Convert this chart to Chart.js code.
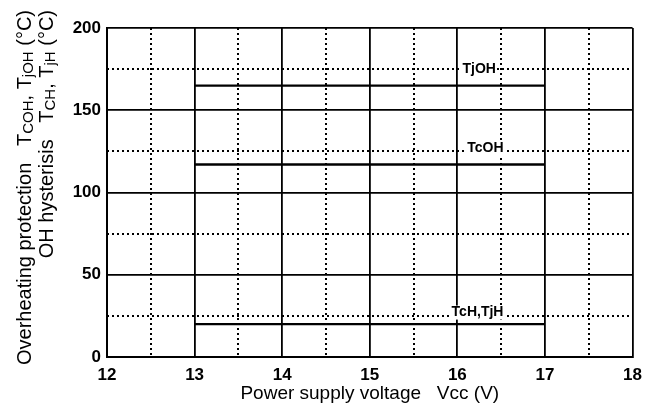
<!DOCTYPE html>
<html><head><meta charset="utf-8">
<script src="https://cdn.jsdelivr.net/npm/chart.js@4.4.1/dist/chart.umd.min.js"></script>
<style>html,body{margin:0;padding:0;background:#fff}</style>
</head><body>
<canvas id="c" width="650" height="405"></canvas>
<script>
// ---- data ----
const seriesNames = ["TjOH", "TcOH", "TcH,TjH"];
const vccRange = [13, 17];
const tempTjOH = [165, 165];
const tempTcOH = [117, 117];
const tempHyst = [20, 20];
const labelX = [16.25, 16.32, 16.23];
const labelY = [175, 127, 27];
const xTicks = [12, 13, 14, 15, 16, 17, 18];
const yTicks = [0, 50, 100, 150, 200];
const xMinor = [12.5, 13.5, 14.5, 15.5, 16.5, 17.5];
const yMinor = [25, 75, 125, 175];

const mk = (vals) => vccRange.map((x, i) => ({x, y: vals[i]}));

const minorGrid = {
  id: 'minorGrid',
  beforeDatasetsDraw(chart) {
    const {ctx, chartArea: a, scales: {x, y}} = chart;
    ctx.save();
    ctx.strokeStyle = '#000';
    ctx.lineWidth = 2;
    ctx.setLineDash([2, 3]);
    xMinor.forEach(v => {
      const px = Math.round(x.getPixelForValue(v));
      ctx.beginPath(); ctx.moveTo(px, a.top); ctx.lineTo(px, a.bottom); ctx.stroke();
    });
    yMinor.forEach(v => {
      const py = Math.round(y.getPixelForValue(v));
      ctx.beginPath(); ctx.moveTo(a.left, py); ctx.lineTo(a.right, py); ctx.stroke();
    });
    ctx.restore();
  },
  afterDatasetsDraw(chart) {
    const {ctx, scales: {x, y}} = chart;
    ctx.save();
    ctx.font = 'bold 14px "Liberation Sans", Arial, sans-serif';
    ctx.textAlign = 'center';
    ctx.textBaseline = 'middle';
    seriesNames.forEach((n, i) => {
      const px = x.getPixelForValue(labelX[i]);
      const py = y.getPixelForValue(labelY[i]);
      const w = ctx.measureText(n).width;
      ctx.fillStyle = '#fff';
      ctx.fillRect(px - w / 2 - 1, py - 7, w + 2, 14);
      ctx.fillStyle = '#000';
      ctx.fillText(n, px, py);
    });
    ctx.restore();
  },
  afterDraw(chart) {
    // rotated y-axis title with subscripts
    const {ctx} = chart;
    const lines = [
      {x: 31, segs: [["Overheating protection   T", 0], ["COH", 1], [", T", 0], ["jOH", 1], [" (°C)", 0]]},
      {x: 53, segs: [["OH hysterisis   T", 0], ["CH", 1], [", T", 0], ["jH", 1], [" (°C)", 0]]}
    ];
    const big = '20px "Liberation Sans", Arial, sans-serif';
    const small = '15px "Liberation Sans", Arial, sans-serif';
    ctx.save();
    ctx.fillStyle = '#000';
    ctx.textBaseline = 'alphabetic';
    lines.forEach(l => {
      let total = 0;
      l.segs.forEach(s => { ctx.font = s[1] ? small : big; total += ctx.measureText(s[0]).width; });
      ctx.save();
      ctx.translate(l.x, 10 + total);
      ctx.rotate(-Math.PI / 2);
      let cx = 0;
      l.segs.forEach(s => {
        ctx.font = s[1] ? small : big;
        ctx.fillText(s[0], cx, s[1] ? 2 : 0);
        cx += ctx.measureText(s[0]).width;
      });
      ctx.restore();
    });
    ctx.restore();
  }
};

const lineDs = (vals) => ({
  data: mk(vals), borderColor: '#000', borderWidth: 2.4, pointRadius: 0, fill: false
});

new Chart(document.getElementById('c'), {
  type: 'line',
  data: { datasets: [lineDs(tempTjOH), lineDs(tempTcOH), lineDs(tempHyst)] },
  options: {
    responsive: false, animation: false, maintainAspectRatio: false,
    layout: { padding: { top: 28, right: 17, left: 0, bottom: 0 } },
    plugins: { legend: { display: false }, tooltip: { enabled: false } },
    scales: {
      x: {
        type: 'linear', min: 12, max: 18,
        afterBuildTicks: s => { s.ticks = xTicks.map(v => ({value: v})); },
        afterFit: s => { s.height = 48; },
        grid: { color: '#000', lineWidth: 1.8, drawTicks: false },
        border: { color: '#000', width: 2 },
        ticks: { color: '#000', padding: 8, font: { size: 17, weight: 'bold', family: '"Liberation Sans", Arial, sans-serif' } },
        title: { display: true, text: 'Power supply voltage   Vcc (V)', color: '#000', padding: { top: 0, bottom: 0 },
                 font: { size: 19, family: '"Liberation Sans", Arial, sans-serif' } }
      },
      y: {
        type: 'linear', min: 0, max: 200,
        afterBuildTicks: s => { s.ticks = yTicks.map(v => ({value: v})); },
        afterFit: s => { s.width = 107; },
        grid: { color: '#000', lineWidth: 1.8, drawTicks: false },
        border: { color: '#000', width: 2 },
        ticks: { color: '#000', padding: 6, font: { size: 17, weight: 'bold', family: '"Liberation Sans", Arial, sans-serif' } }
      }
    }
  },
  plugins: [minorGrid]
});
</script>
</body></html>
